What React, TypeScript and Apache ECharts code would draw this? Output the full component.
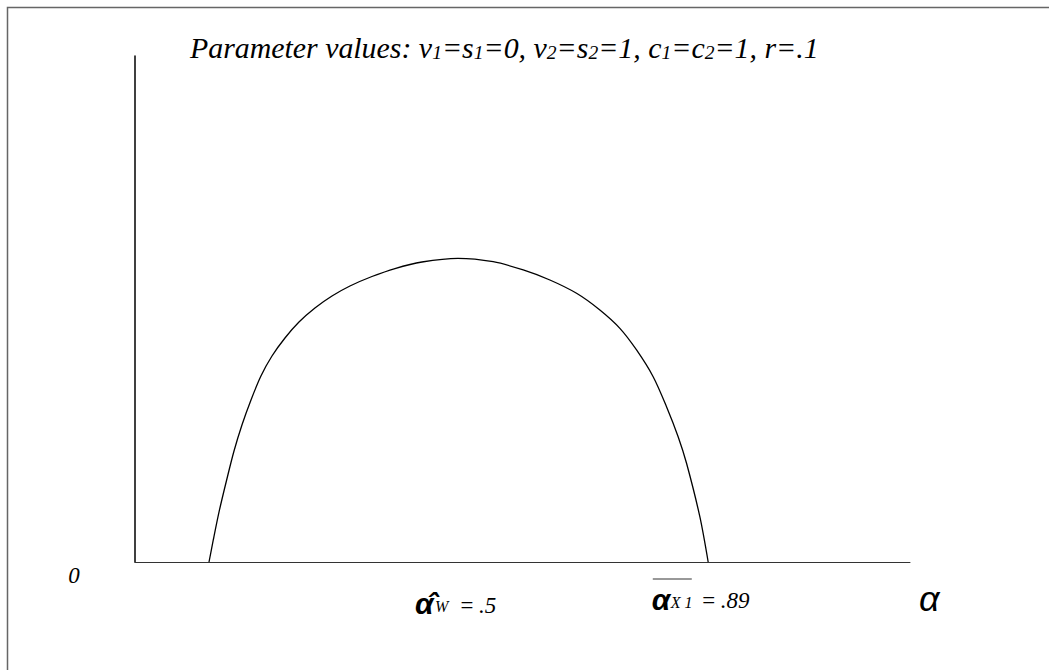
import React, { useEffect, useRef } from "react";
import * as echarts from "echarts";

// Curve: alpha (x) vs. value (y)
const alphaValues = [0.1146, 0.1212, 0.1308, 0.1419, 0.1533, 0.1656, 0.1796, 0.195, 0.2121, 0.2322, 0.2539, 0.2786, 0.305, 0.3328, 0.3669, 0.4025, 0.4443, 0.5, 0.5546, 0.6011, 0.6424, 0.6837, 0.7198, 0.7508, 0.7766, 0.8023, 0.823, 0.841, 0.854, 0.8746, 0.8875];
const curveValues = [0, 0.0435, 0.1028, 0.1621, 0.2194, 0.2708, 0.3202, 0.3676, 0.4071, 0.4427, 0.4743, 0.502, 0.5257, 0.5455, 0.5642, 0.58, 0.5929, 0.6002, 0.5935, 0.5771, 0.5573, 0.531, 0.498, 0.4618, 0.419, 0.3662, 0.307, 0.2477, 0.1951, 0.0895, 0];

const xRange = [0, 1.2];
const yRange = [0, 1];
const alphaW = 0.5;
const alphaX1 = 0.89;
const titleParts = ["Parameter values: v", "1", "=s", "1", "=0, v", "2", "=s", "2", "=1, c", "1", "=c", "2", "=1, r=.1"];

const SERIF = "Liberation Serif";
const SANS = "Liberation Sans";

function txt(x: number, y: number, text: string, family: string, size: number, weight: string = "normal") {
  return {
    type: "text", x, y,
    style: { text, fontFamily: family, fontStyle: "italic", fontWeight: weight, fontSize: size, fill: "#000", align: "left", verticalAlign: "middle" },
  };
}

export default function App() {
  const ref = useRef<HTMLDivElement>(null);
  useEffect(() => {
    if (!ref.current) return;
    const chart = echarts.init(ref.current, null, { renderer: "svg" });
    const data = alphaValues.map((a, i) => [a, curveValues[i]]);
    chart.setOption({
      animation: false,
      backgroundColor: "#fff",
      grid: { left: 135, top: 56, width: 775, height: 506 },
      xAxis: {
        type: "value", min: xRange[0], max: xRange[1],
        axisLine: { show: true, lineStyle: { color: "#333", width: 1 } },
        axisTick: { show: false }, axisLabel: { show: false }, splitLine: { show: false },
      },
      yAxis: {
        type: "value", min: yRange[0], max: yRange[1],
        axisLine: { show: true, lineStyle: { color: "#000", width: 1.5 } },
        axisTick: { show: false }, axisLabel: { show: false }, splitLine: { show: false },
      },
      series: [{
        type: "line", data, smooth: 0.3, showSymbol: false,
        lineStyle: { color: "#000", width: 1.3 },
      }],
    });
    const p0 = chart.convertToPixel({ gridIndex: 0 }, [0, 0]) as number[];
    const pW = chart.convertToPixel({ gridIndex: 0 }, [alphaW, 0]) as number[];
    const pX = chart.convertToPixel({ gridIndex: 0 }, [alphaX1, 0]) as number[];
    const pEnd = chart.convertToPixel({ gridIndex: 0 }, [xRange[1], 0]) as number[];

    const titleRich = titleParts.map((t, i) => (i % 2 === 1 ? `{s|${t}}` : `{a|${t}}`)).join("");

    chart.setOption({
      graphic: [
        {
          type: "rect", shape: { x: 7.5, y: 7.5, width: 1100, height: 700 },
          style: { fill: "none", stroke: "#666", lineWidth: 1.5 }, silent: true,
        },
        {
          type: "text", x: 190, y: 63, scaleX: 1.03,
          style: {
            text: titleRich, verticalAlign: "bottom", fontFamily: SERIF, fontStyle: "italic", fontSize: 29,
            rich: {
              a: { fontFamily: SERIF, fontStyle: "italic", fontSize: 29, fill: "#000", verticalAlign: "bottom" },
              s: { fontFamily: SERIF, fontStyle: "italic", fontSize: 19, fill: "#000", verticalAlign: "bottom", padding: [0, 0, 1, 0] },
            },
          },
        },
        {
          type: "text", x: p0[0] - 61, y: p0[1] + 13,
          style: { text: "0", fontFamily: SERIF, fontStyle: "italic", fontSize: 23, fill: "#000", align: "center", verticalAlign: "middle" },
        },
        // alpha-hat W = .5
        txt(pW[0] - 43, pW[1] + 41, "α\u0302", SANS, 30, "bold"),
        txt(pW[0] - 23, pW[1] + 44, "W", SERIF, 16),
        txt(pW[0] + 1, pW[1] + 43, "=", SERIF, 23),
        txt(pW[0] + 21, pW[1] + 43, ".5", SERIF, 23),
        // alpha-bar X1 = .89
        {
          type: "line", shape: { x1: pX[0] - 57, y1: pX[1] + 17, x2: pX[0] - 18, y2: pX[1] + 17 },
          style: { stroke: "#333", lineWidth: 1 },
        },
        txt(pX[0] - 58, pX[1] + 37, "α", SANS, 30, "bold"),
        txt(pX[0] - 39, pX[1] + 40, "X 1", SERIF, 16),
        txt(pX[0] - 9, pX[1] + 38, "=", SERIF, 23),
        txt(pX[0] + 11, pX[1] + 38, ".89", SERIF, 23),
        {
          type: "text", x: pEnd[0] + 9, y: pEnd[1] + 54,
          style: { text: "α", fontFamily: SANS, fontStyle: "italic", fontSize: 36, fill: "#000", verticalAlign: "bottom" },
        },
      ],
    });
    return () => chart.dispose();
  }, []);
  return <div ref={ref} style={{ position: "absolute", left: 0, top: 0, width: 1049, height: 670 }} />;
}
